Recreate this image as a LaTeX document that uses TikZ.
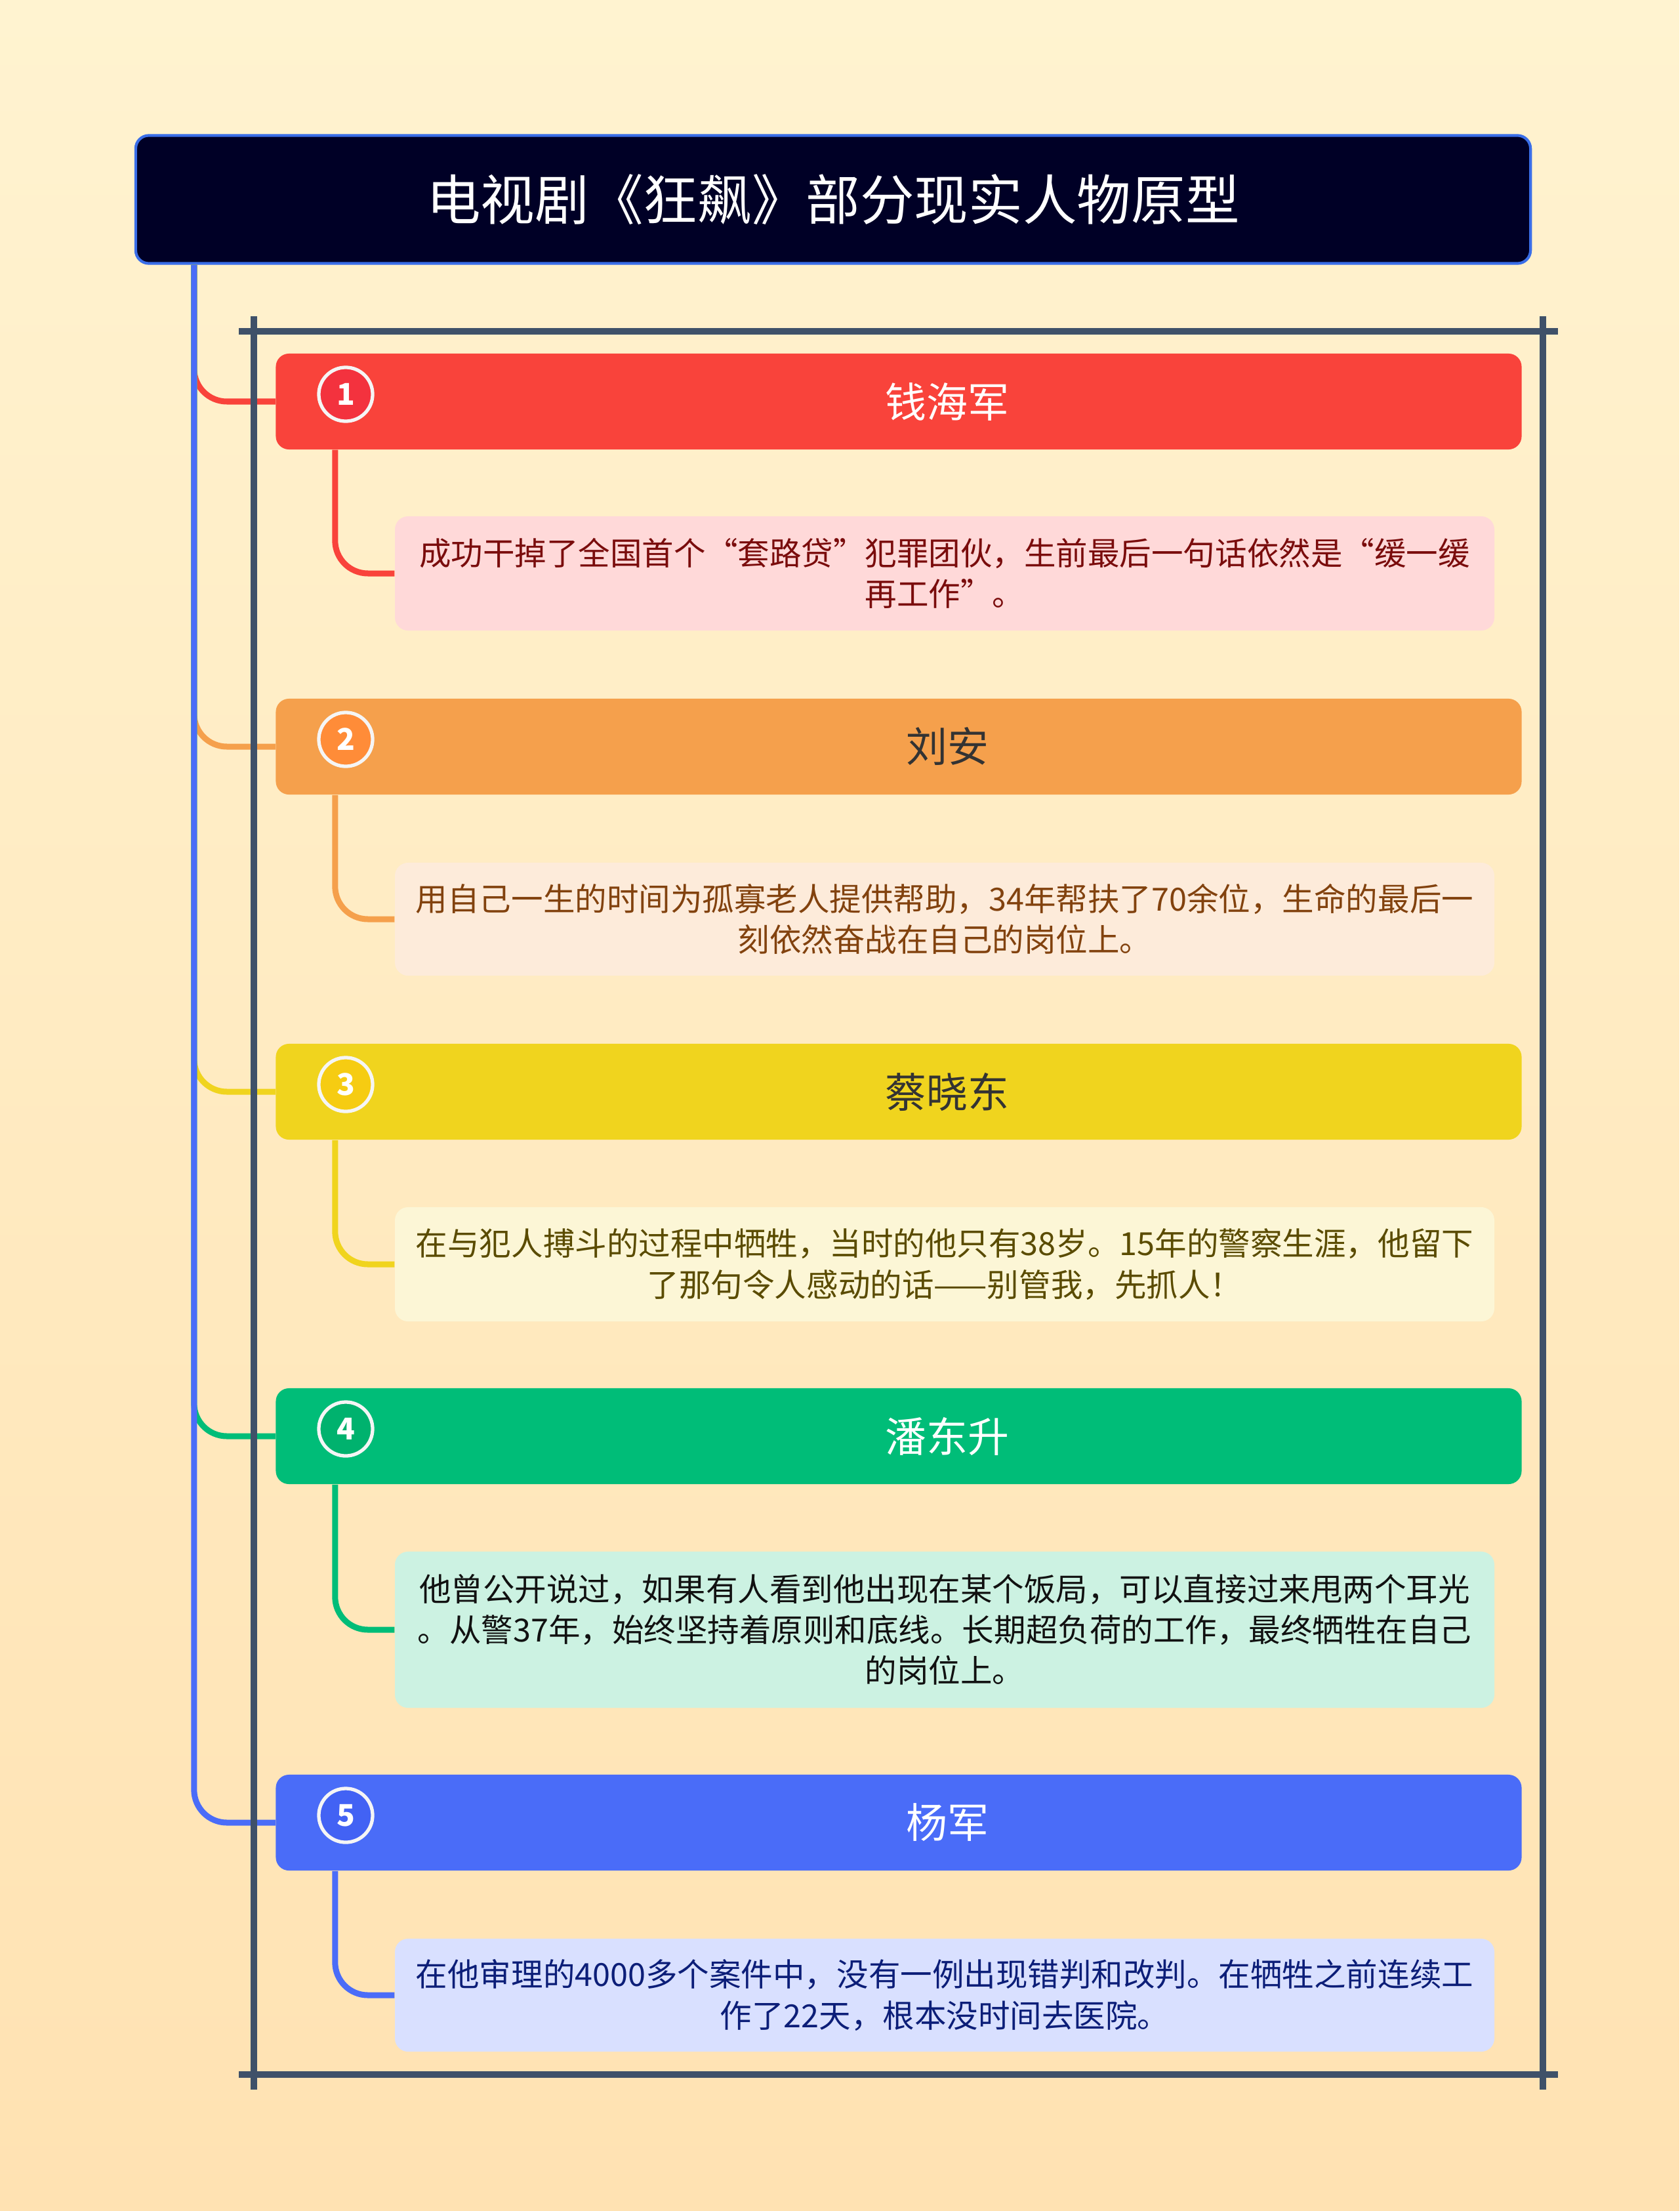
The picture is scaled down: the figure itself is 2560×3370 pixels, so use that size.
\documentclass[tikz,border=0pt]{standalone}
\usepackage{fontspec}
\setmainfont{Noto Sans CJK SC}
\usetikzlibrary{positioning}
\definecolor{pagetop}{RGB}{255,243,208}
\definecolor{pagebot}{RGB}{255,226,178}
\definecolor{titlefill}{RGB}{0,0,38}
\definecolor{titleedge}{RGB}{58,110,232}
\definecolor{framegray}{RGB}{63,81,105}
\definecolor{darktext}{RGB}{51,51,51}
\definecolor{redmain}{RGB}{249,67,59}
\definecolor{reddot}{RGB}{243,50,62}
\definecolor{rednote}{RGB}{255,217,217}
\definecolor{redtext}{RGB}{122,12,12}
\definecolor{orgmain}{RGB}{245,160,76}
\definecolor{orgdot}{RGB}{255,140,56}
\definecolor{orgnote}{RGB}{253,235,218}
\definecolor{orgtext}{RGB}{130,66,14}
\definecolor{yelmain}{RGB}{240,212,30}
\definecolor{yeldot}{RGB}{246,204,18}
\definecolor{yelnote}{RGB}{252,246,214}
\definecolor{yeltext}{RGB}{90,75,0}
\definecolor{grnmain}{RGB}{0,189,120}
\definecolor{grndot}{RGB}{0,178,110}
\definecolor{grnnote}{RGB}{204,242,226}
\definecolor{grntext}{RGB}{17,17,17}
\definecolor{blumain}{RGB}{74,108,248}
\definecolor{bludot}{RGB}{66,98,244}
\definecolor{blunote}{RGB}{217,224,255}
\definecolor{blutext}{RGB}{12,30,120}

\begin{document}
\begin{tikzpicture}[x=0.01cm,y=-0.01cm,line join=round,
  titlebox/.style={draw=titleedge,line width=1.2pt,fill=titlefill,rounded corners=0.2cm,minimum width=21.25cm,minimum height=1.95cm,inner sep=0pt,text=white,font=\fontsize{23.5pt}{28pt}\selectfont},
  topicbox/.style={rounded corners=0.2cm,minimum width=18.98cm,minimum height=1.46cm,inner sep=0pt},
  topictext/.style={inner sep=0pt,font=\fontsize{17.9pt}{21pt}\selectfont},
  numdot/.style={circle,draw=white!92!gray,line width=1.5pt,minimum size=0.82cm,inner sep=0pt,text=white,font=\fontsize{13pt}{14pt}\selectfont\bfseries},
  notebox/.style={rounded corners=0.2cm,minimum width=16.75cm,inner sep=0pt,text width=16.6cm,align=center,font=\fontsize{13.8pt}{17.7pt}\selectfont},
  branchline/.style={line width=0.09cm,rounded corners=0.5cm},
  frameline/.style={draw=framegray,line width=0.1cm}]
\useasboundingbox (0,0) rectangle (2560,3370);
\shade[top color=pagetop,bottom color=pagebot] (0,0) rectangle (2560,3370);
% root topic
\node[titlebox] (title) at (1270,304) {电视剧《狂飙》部分现实人物原型};
% five persons
\node[topicbox,fill=redmain] (t1) at (1370,612) {};
\node[topictext,text=white] (t1name) at (1444,612) {钱海军};
\node[numdot,fill=reddot] (d1) at (527,601) {1};
\node[notebox,fill=rednote,text=redtext,minimum height=1.74cm] (c1) at (1440,874) {成功干掉了全国首个“套路贷”犯罪团伙，生前最后一句话依然是“缓一缓\\再工作”。};
\node[topicbox,fill=orgmain] (t2) at (1370,1138) {};
\node[topictext,text=darktext] (t2name) at (1444,1138) {刘安};
\node[numdot,fill=orgdot] (d2) at (527,1127) {2};
\node[notebox,fill=orgnote,text=orgtext,minimum height=1.72cm] (c2) at (1440,1401) {用自己一生的时间为孤寡老人提供帮助，34年帮扶了70余位，生命的最后一\\刻依然奋战在自己的岗位上。};
\node[topicbox,fill=yelmain] (t3) at (1370,1664) {};
\node[topictext,text=darktext] (t3name) at (1444,1664) {蔡晓东};
\node[numdot,fill=yeldot] (d3) at (527,1653) {3};
\node[notebox,fill=yelnote,text=yeltext,minimum height=1.74cm] (c3) at (1440,1927) {在与犯人搏斗的过程中牺牲，当时的他只有38岁。15年的警察生涯，他留下\\了那句令人感动的话——别管我，先抓人！};
\node[topicbox,fill=grnmain] (t4) at (1370,2189) {};
\node[topictext,text=white] (t4name) at (1444,2189) {潘东升};
\node[numdot,fill=grndot] (d4) at (527,2178) {4};
\node[notebox,fill=grnnote,text=grntext,minimum height=2.38cm] (c4) at (1440,2484) {他曾公开说过，如果有人看到他出现在某个饭局，可以直接过来甩两个耳光\\。从警37年，始终坚持着原则和底线。长期超负荷的工作，最终牺牲在自己\\的岗位上。};
\node[topicbox,fill=blumain] (t5) at (1370,2778) {};
\node[topictext,text=white] (t5name) at (1444,2778) {杨军};
\node[numdot,fill=bludot] (d5) at (527,2767) {5};
\node[notebox,fill=blunote,text=blutext,minimum height=1.72cm] (c5) at (1440,3041) {在他审理的4000多个案件中，没有一例出现错判和改判。在牺牲之前连续工\\作了22天，根本没时间去医院。};
% connectors, blue trunk drawn last
\coordinate (root) at ([xshift=0.91cm]title.south west);
\foreach \k/\col in {1/redmain,2/orgmain,3/yelmain,4/grnmain,5/blumain}{
  \draw[branchline,\col] (root) |- (t\k.west);
  \draw[branchline,\col] ([xshift=0.91cm]t\k.south west) |- (c\k.west);
}
% summary frame
\draw[frameline] (364,505) -- (2375,505) (364,3162) -- (2375,3162);
\draw[frameline] (387,482) -- (387,3185) (2352,482) -- (2352,3185);
\end{tikzpicture}
\end{document}
